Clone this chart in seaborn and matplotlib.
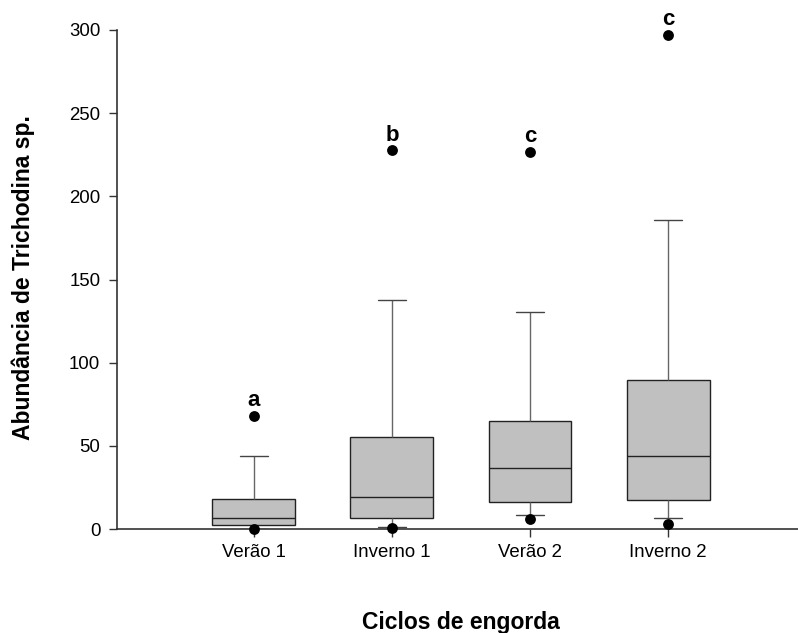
import numpy as np
import pandas as pd
import matplotlib
matplotlib.use("Agg")
import matplotlib.pyplot as plt
import seaborn as sns

# ---- data ----
categories = ["Verão 1", "Inverno 1", "Verão 2", "Inverno 2"]
whisker_low = [0.0, 1.4, 8.2, 6.4]
q1 = [2.4, 6.4, 16.5, 17.3]
median = [6.4, 19.2, 36.9, 44.1]
q3 = [18.2, 55.1, 65.0, 89.4]
whisker_high = [44.1, 137.5, 130.7, 186.0]
outlier_low = [0.0, 0.4, 5.8, 3.0]
outlier_high = [68.0, 227.7, 226.7, 297.2]
letters = ["a", "b", "c", "c"]
y_ticks = [0, 50, 100, 150, 200, 250, 300]
x_label = "Ciclos de engorda"
y_label = "Abundância de Trichodina sp."

# long-form table whose quartiles/extremes reproduce the box statistics
rows = []
for i, c in enumerate(categories):
    for v in (whisker_low[i], q1[i], median[i], q3[i], whisker_high[i]):
        rows.append({"ciclo": c, "valor": v})
box_df = pd.DataFrame(rows)

out_df = pd.DataFrame({
    "ciclo": categories * 2,
    "valor": outlier_low + outlier_high,
})

sns.set_style("ticks")
plt.rcParams["font.family"] = ["Liberation Sans", "DejaVu Sans"]
plt.rcParams["text.color"] = "black"
plt.rcParams["axes.labelcolor"] = "black"
plt.rcParams["xtick.color"] = "black"
plt.rcParams["ytick.color"] = "black"

fig = plt.figure(figsize=(7.98, 6.33), dpi=100)
ax = fig.add_axes([117 / 798, (633 - 529) / 633, 681 / 798, 499 / 633])

sns.boxplot(
    data=box_df, x="ciclo", y="valor", order=categories, ax=ax,
    whis=(0, 100), width=0.6, color="#c0c0c0", fill=True,
    linewidth=1.0, linecolor="#222222",
    boxprops=dict(facecolor="#c0c0c0", edgecolor="#222222", linewidth=1.0),
    whiskerprops=dict(color="#666666", linewidth=1.0),
    capprops=dict(color="#444444", linewidth=1.0),
    medianprops=dict(color="#222222", linewidth=1.0),
    showfliers=False,
    capwidths=0.2,
)

sns.stripplot(
    data=out_df, x="ciclo", y="valor", order=categories, ax=ax,
    jitter=False, color="black", size=7.8, linewidth=0, zorder=3,
    clip_on=False,
)

for i, c in enumerate(categories):
    ax.annotate(letters[i], xy=(i, outlier_high[i]), xytext=(0, 7),
                textcoords="offset points", ha="center", va="baseline",
                fontsize=16, fontweight="bold", color="black",
                annotation_clip=False)

ax.set_xlim(-0.99, 3.94)
ax.set_ylim(0, 300)
ax.set_yticks(y_ticks)
ax.set_yticklabels([str(t) for t in y_ticks])

sns.despine(ax=ax)
for side in ("left", "bottom"):
    ax.spines[side].set_color("#333333")
    ax.spines[side].set_linewidth(1.2)

ax.tick_params(axis="both", direction="out", length=6, width=1.0,
               color="#333333", labelsize=13.4, labelcolor="black")
ax.tick_params(axis="y", pad=6)
ax.tick_params(axis="x", pad=5)

ax.set_xlabel(x_label, fontsize=16.5, fontweight="bold", color="black")
ax.set_ylabel(y_label, fontsize=16.5, fontweight="bold", color="black")
ax.xaxis.set_label_coords((461 - 117) / 681, (529 - 622) / 499)
ax.xaxis.label.set_va("center")
ax.yaxis.set_label_coords((23 - 117) / 681, (529 - 278) / 499)
ax.yaxis.label.set_va("center")

fig.savefig("out.png", dpi=100)
